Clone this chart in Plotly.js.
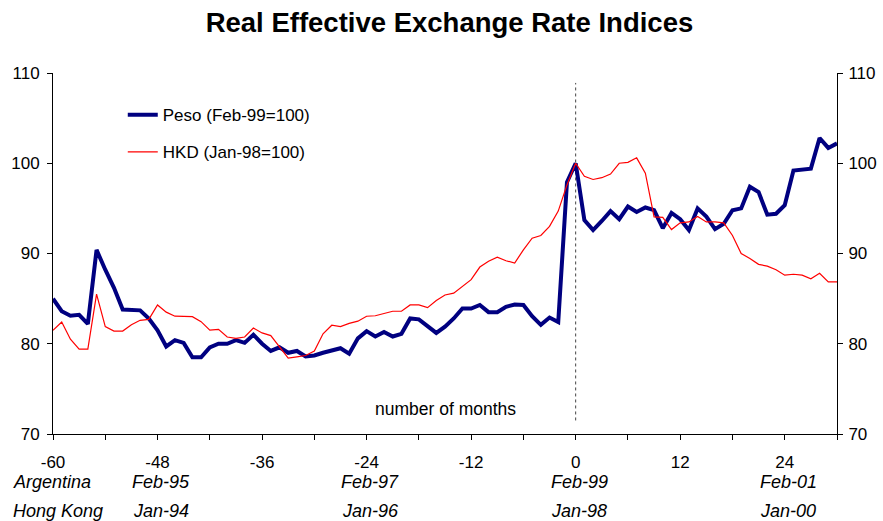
<!DOCTYPE html>
<html>
<head>
<meta charset="utf-8">
<script src="https://cdn.plot.ly/plotly-3.0.1.min.js"></script>
<style>html,body{margin:0;padding:0;background:#fff;}#chart{width:883px;height:521px;}</style>
</head>
<body>
<div id="chart"></div>
<script>
// months relative to devaluation / peg date
const months = [];
for (let m = -60; m <= 30; m++) months.push(m);

// Peso real effective exchange rate (Feb-99=100)
const peso = [
  85.0, 83.6, 83.1, 83.2, 82.2, 90.4, 88.2, 86.2, 83.8, 83.8,
  83.7, 82.8, 81.5, 79.7, 80.4, 80.1, 78.5, 78.5, 79.6, 80.0,
  80.0, 80.4, 80.1, 81.0, 80.0, 79.2, 79.6, 79.0, 79.2, 78.6,
  78.7, 79.0, 79.2, 79.5, 78.9, 80.6, 81.4, 80.8, 81.3, 80.8,
  81.1, 82.8, 82.7, 81.9, 81.2, 81.9, 82.8, 83.9, 83.9, 84.3,
  83.5, 83.5, 84.1, 84.35, 84.3, 83.05, 82.1, 82.9, 82.4, 97.9,
  100.0, 93.7, 92.6, 93.6, 94.7, 93.8, 95.2, 94.6, 95.1, 94.8,
  92.8, 94.5, 93.8, 92.6, 95.0, 94.1, 92.7, 93.3, 94.8, 95.0,
  97.4, 96.8, 94.3, 94.4, 95.35, 99.2, 99.3, 99.4, 102.8, 101.7,
  102.2
];

// HKD real effective exchange rate (Jan-98=100)
const hkd = [
  81.5, 82.4, 80.5, 79.4, 79.4, 85.5, 81.9, 81.4, 81.4, 82.1,
  82.6, 82.7, 84.3, 83.5, 83.05, 83.0, 83.0, 82.45, 81.5, 81.6,
  80.75, 80.6, 80.75, 81.75, 81.2, 80.9, 79.7, 78.4, 78.55, 78.7,
  79.2, 81.1, 82.05, 81.9, 82.25, 82.5, 83.05, 83.1, 83.35, 83.6,
  83.6, 84.3, 84.3, 84.0, 84.8, 85.4, 85.6, 86.3, 87.1, 88.5,
  89.15, 89.6, 89.2, 88.95, 90.4, 91.7, 92.0, 93.0, 94.7, 97.6,
  100.0, 98.55, 98.2, 98.4, 98.8, 100.0, 100.1, 100.6, 98.9, 94.05,
  94.0, 92.65, 93.4, 93.5, 94.1, 93.5, 93.5, 93.4, 92.0, 90.0,
  89.45, 88.8, 88.6, 88.2, 87.6, 87.7, 87.6, 87.2, 87.8, 86.85,
  86.85
];

const seriesNames = ["Peso (Feb-99=100)", "HKD (Jan-98=100)"];
const xTickVals = [-60, -48, -36, -24, -12, 0, 12, 24];
const xTickText = ["-60", "-48", "-36", "-24", "-12", "0", "12", "24"];
const yTickVals = [70, 80, 90, 100, 110];

const dateTickMonths = [-48, -24, 0, 24];
const argentinaDates = ["Feb-95", "Feb-97", "Feb-99", "Feb-01"];
const hongKongDates = ["Jan-94", "Jan-96", "Jan-98", "Jan-00"];

const FONT = "Liberation Sans, Arial, sans-serif";

const traces = [
  {x: months, y: peso, name: seriesNames[0], type: "scatter", mode: "lines",
   line: {color: "#000080", width: 4}, legendgroup: "a"},
  {x: months, y: hkd, name: seriesNames[1], type: "scatter", mode: "lines",
   line: {color: "#ff0000", width: 1.2}, legendgroup: "b", yaxis: "y2"}
];

const annotations = [
  {text: "number of months", xref: "x", yref: "y", x: -15, y: 72.8,
   showarrow: false, font: {family: FONT, size: 17.5, color: "#000"}},
  {text: "<i>Argentina</i>", xref: "paper", yref: "paper", x: -0.053, y: -0.133,
   xanchor: "left", yanchor: "middle", showarrow: false, font: {family: FONT, size: 18, color: "#000"}},
  {text: "<i>Hong Kong</i>", xref: "paper", yref: "paper", x: -0.053, y: -0.214,
   xanchor: "left", yanchor: "middle", showarrow: false, font: {family: FONT, size: 18, color: "#000"}}
];
dateTickMonths.forEach((m, i) => {
  annotations.push({text: "<i>" + argentinaDates[i] + "</i>", xref: "x", yref: "paper",
    x: m + 0.4, y: -0.133, xanchor: "center", yanchor: "middle", showarrow: false,
    font: {family: FONT, size: 18, color: "#000"}});
  annotations.push({text: "<i>" + hongKongDates[i] + "</i>", xref: "x", yref: "paper",
    x: m + 0.4, y: -0.214, xanchor: "center", yanchor: "middle", showarrow: false,
    font: {family: FONT, size: 18, color: "#000"}});
});

const layout = {
  width: 883, height: 521,
  margin: {l: 53, r: 46, t: 73, b: 87},
  paper_bgcolor: "#fff", plot_bgcolor: "#fff",
  font: {family: FONT, size: 17, color: "#000"},
  title: {text: "<b>Real Effective Exchange Rate Indices</b>", font: {family: FONT, size: 27.5, color: "#000"},
          xref: "container", x: 0.509, y: 0.957, xanchor: "center", yanchor: "middle"},
  showlegend: true,
  legend: {x: 0.089, y: 0.933, xanchor: "left", yanchor: "top", bgcolor: "rgba(0,0,0,0)",
           font: {family: FONT, size: 17, color: "#000"}, tracegroupgap: 12, traceorder: "grouped"},
  xaxis: {range: [-60, 30], tickvals: xTickVals, ticktext: xTickText, ticks: "outside", ticklen: 5, tickwidth: 1, tickcolor: "#000",
          showline: true, linecolor: "#000", linewidth: 1, showgrid: false, zeroline: false,
          ticklabelstandoff: 8,
          minor: {dtick: 6, tick0: 0, ticks: "outside", ticklen: 5, tickcolor: "#000", showgrid: false},
          tickfont: {family: FONT, size: 17, color: "#000"}},
  yaxis: {range: [70, 110], tickvals: yTickVals, ticks: "outside", ticklen: 5, tickcolor: "#000",
          showline: true, linecolor: "#000", linewidth: 1, showgrid: false, zeroline: false,
          ticklabelstandoff: 4,
          tickfont: {family: FONT, size: 17, color: "#000"}},
  yaxis2: {range: [70, 110], tickvals: yTickVals, overlaying: "y", side: "right", anchor: "x",
           ticks: "outside", ticklen: 5, tickcolor: "#000",
           showline: true, linecolor: "#000", linewidth: 1, showgrid: false, zeroline: false,
           ticklabelstandoff: 2,
           tickfont: {family: FONT, size: 17, color: "#000"}},
  shapes: [
    {type: "line", xref: "x", yref: "y", x0: 0, x1: 0, y0: 71.5, y1: 108.9,
     line: {color: "#444", width: 1, dash: "dot"}, layer: "below"}
  ],
  annotations: annotations
};

Plotly.newPlot("chart", traces, layout, {displayModeBar: false, staticPlot: true});
</script>
</body>
</html>
